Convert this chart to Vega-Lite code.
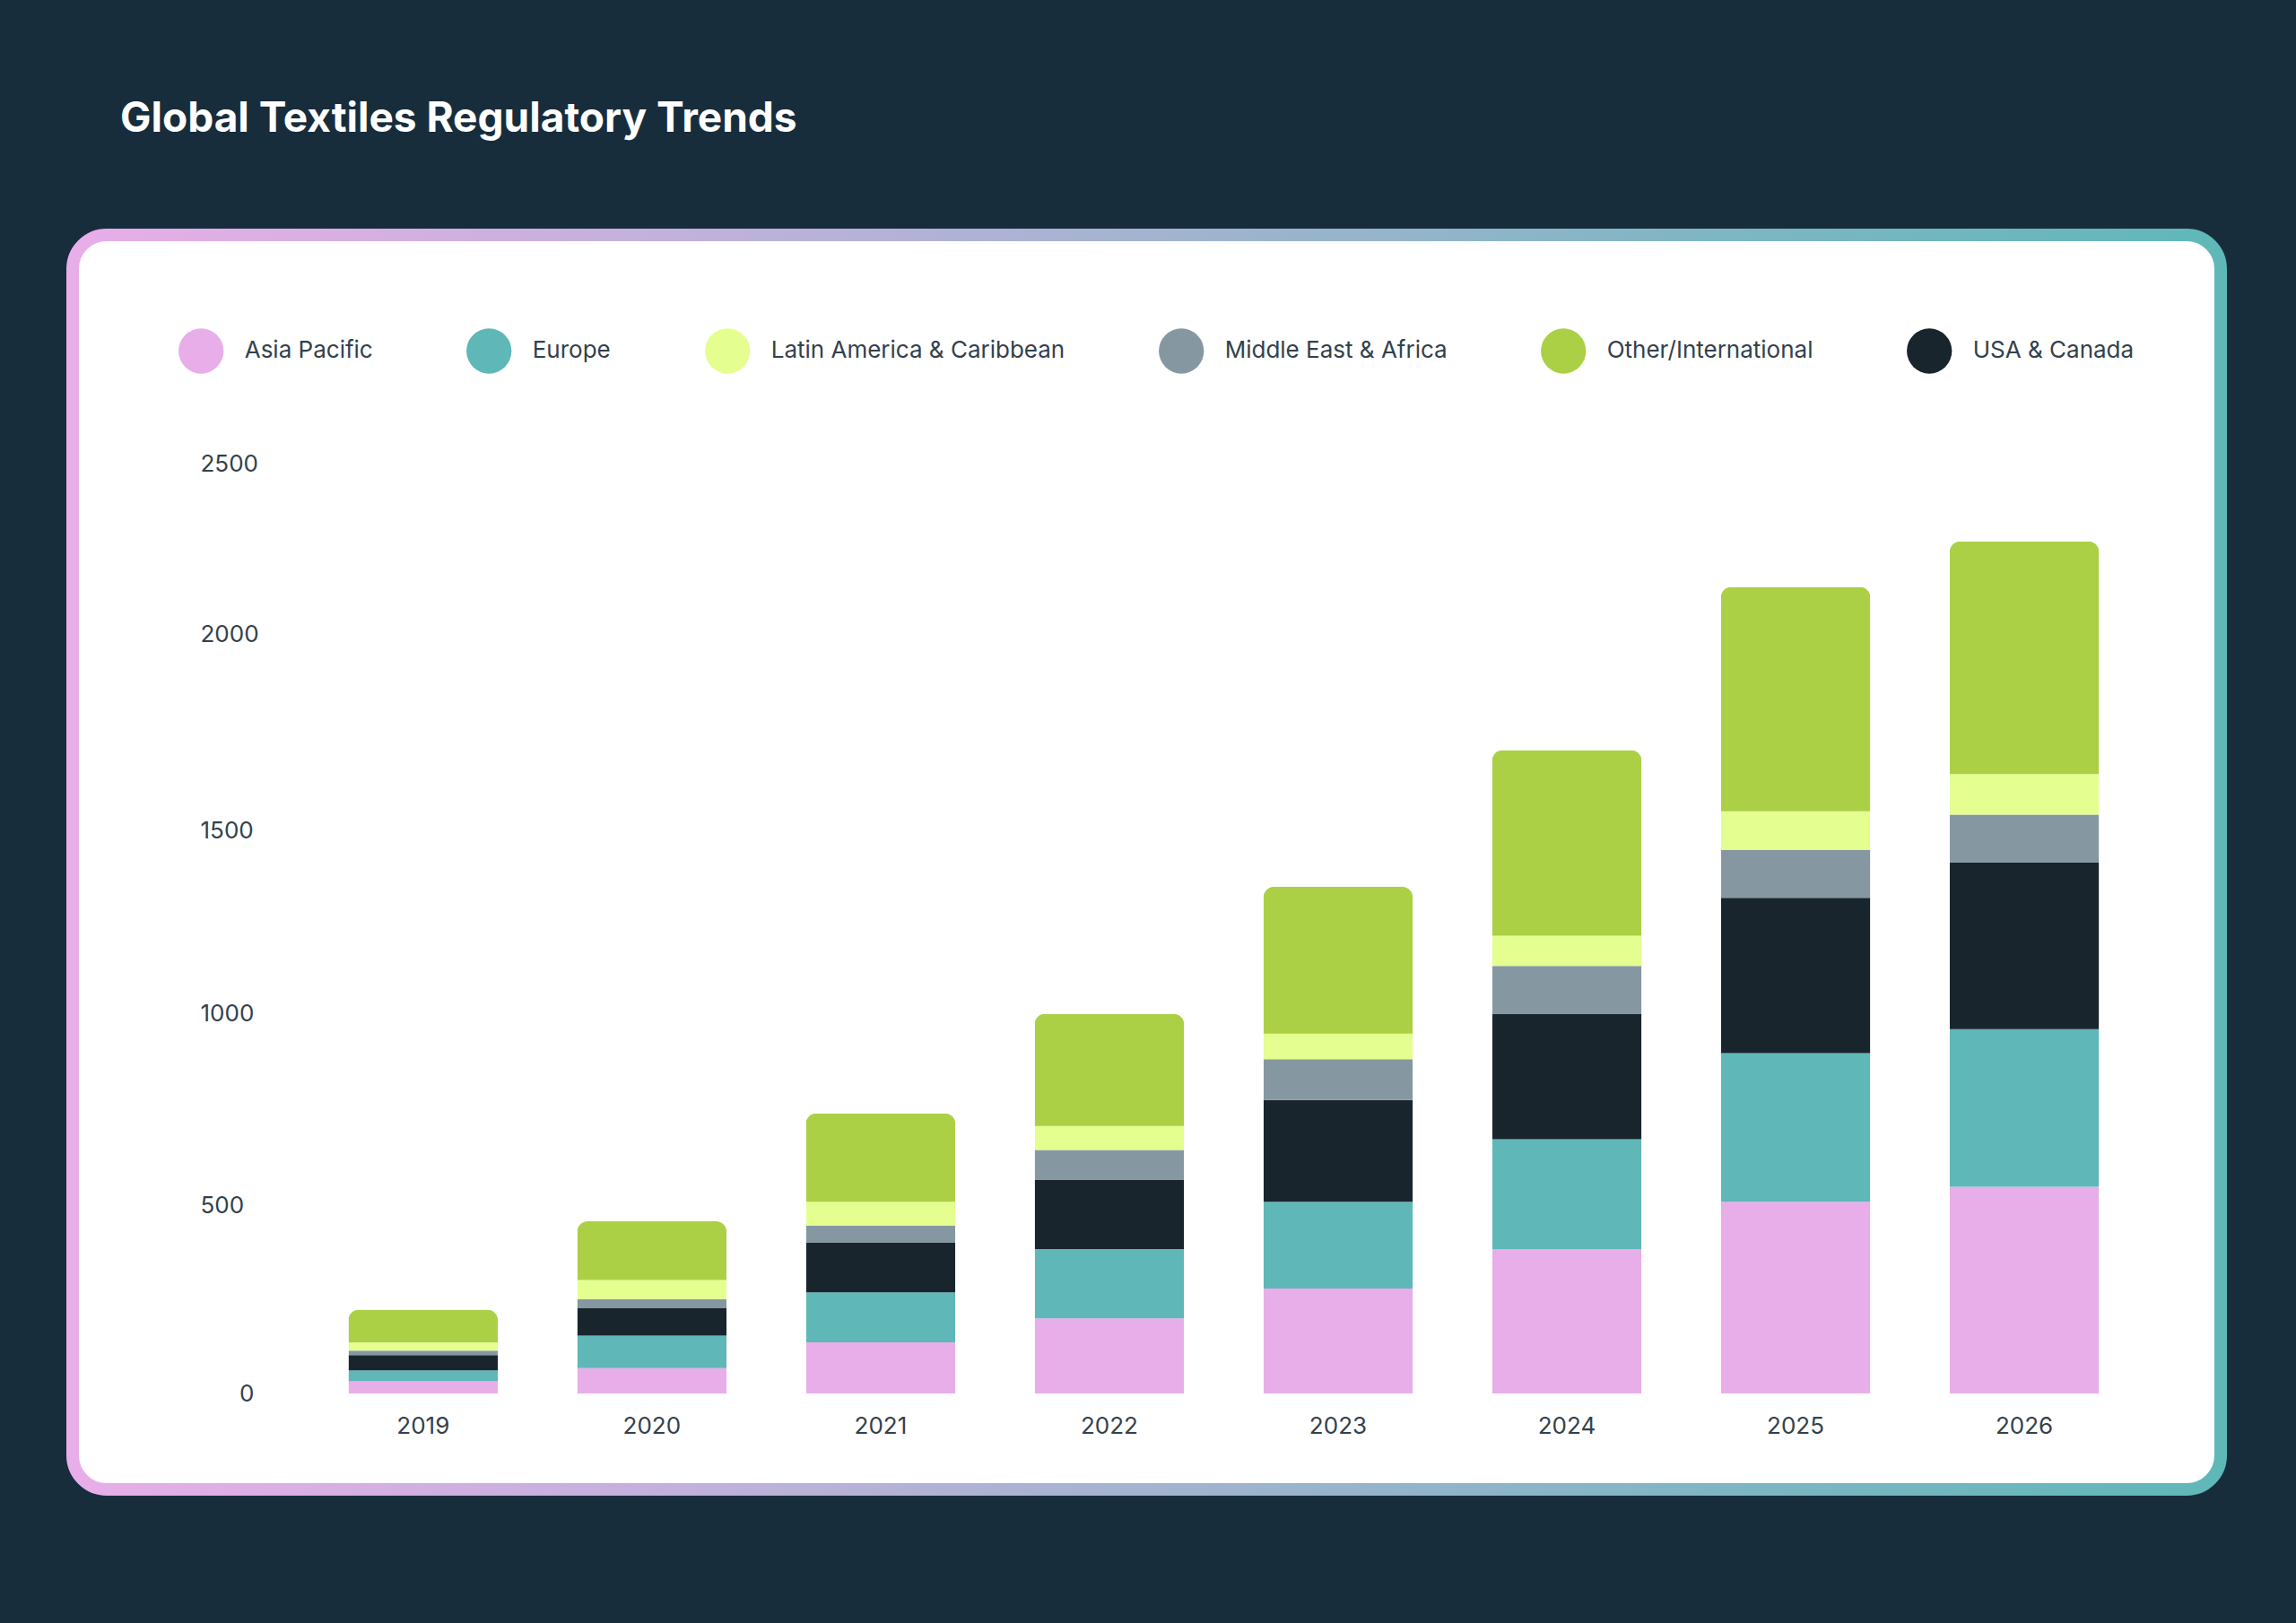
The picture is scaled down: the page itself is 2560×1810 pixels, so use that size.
{
  "$schema": "https://vega.github.io/schema/vega-lite/v6.json",
  "autosize": {"type": "none"},
  "padding": {"left": 81, "top": 262, "right": 84, "bottom": 149},
  "width": 2395,
  "height": 1399,
  "background": "#182d3c",
  "title": {
    "text": "Global Textiles Regulatory Trends",
    "anchor": "start",
    "frame": "group",
    "offset": 62,
    "dx": 53,
    "fontSize": 46,
    "fontWeight": 700,
    "font": "Inter",
    "color": "#ffffff",
    "baseline": "alphabetic"
  },
  "config": {"view": {"stroke": null}, "font": "Inter"},
  "layer": [
    {
      "data": {"values": [{"panel": "frame"}]},
      "mark": {
        "type": "rect",
        "fill": "#ffffff",
        "stroke": {
          "gradient": "linear",
          "x1": 0, "y1": 0, "x2": 1, "y2": 0,
          "stops": [
            {"offset": 0, "color": "#e8aee9"},
            {"offset": 1, "color": "#5fb8b8"}
          ]
        },
        "strokeWidth": 14,
        "cornerRadius": 38
      },
      "encoding": {}
    },
    {
      "data": {
        "values": [
          {"year": "2019", "region": "Asia Pacific", "value": 33},
          {"year": "2019", "region": "Europe", "value": 29},
          {"year": "2019", "region": "USA & Canada", "value": 41},
          {"year": "2019", "region": "Middle East & Africa", "value": 12},
          {"year": "2019", "region": "Latin America & Caribbean", "value": 22},
          {"year": "2019", "region": "Other/International", "value": 87},
          {"year": "2020", "region": "Asia Pacific", "value": 68},
          {"year": "2020", "region": "Europe", "value": 87},
          {"year": "2020", "region": "USA & Canada", "value": 74},
          {"year": "2020", "region": "Middle East & Africa", "value": 23},
          {"year": "2020", "region": "Latin America & Caribbean", "value": 51},
          {"year": "2020", "region": "Other/International", "value": 156},
          {"year": "2021", "region": "Asia Pacific", "value": 137},
          {"year": "2021", "region": "Europe", "value": 133},
          {"year": "2021", "region": "USA & Canada", "value": 132},
          {"year": "2021", "region": "Middle East & Africa", "value": 45},
          {"year": "2021", "region": "Latin America & Caribbean", "value": 64},
          {"year": "2021", "region": "Other/International", "value": 236},
          {"year": "2022", "region": "Asia Pacific", "value": 201},
          {"year": "2022", "region": "Europe", "value": 184},
          {"year": "2022", "region": "USA & Canada", "value": 184},
          {"year": "2022", "region": "Middle East & Africa", "value": 80},
          {"year": "2022", "region": "Latin America & Caribbean", "value": 64},
          {"year": "2022", "region": "Other/International", "value": 299},
          {"year": "2023", "region": "Asia Pacific", "value": 280},
          {"year": "2023", "region": "Europe", "value": 231},
          {"year": "2023", "region": "USA & Canada", "value": 271},
          {"year": "2023", "region": "Middle East & Africa", "value": 109},
          {"year": "2023", "region": "Latin America & Caribbean", "value": 68},
          {"year": "2023", "region": "Other/International", "value": 391},
          {"year": "2024", "region": "Asia Pacific", "value": 385},
          {"year": "2024", "region": "Europe", "value": 293},
          {"year": "2024", "region": "USA & Canada", "value": 334},
          {"year": "2024", "region": "Middle East & Africa", "value": 127},
          {"year": "2024", "region": "Latin America & Caribbean", "value": 81},
          {"year": "2024", "region": "Other/International", "value": 494},
          {"year": "2025", "region": "Asia Pacific", "value": 511},
          {"year": "2025", "region": "Europe", "value": 396},
          {"year": "2025", "region": "USA & Canada", "value": 414},
          {"year": "2025", "region": "Middle East & Africa", "value": 127},
          {"year": "2025", "region": "Latin America & Caribbean", "value": 103},
          {"year": "2025", "region": "Other/International", "value": 598},
          {"year": "2026", "region": "Asia Pacific", "value": 551},
          {"year": "2026", "region": "Europe", "value": 420},
          {"year": "2026", "region": "USA & Canada", "value": 444},
          {"year": "2026", "region": "Middle East & Africa", "value": 127},
          {"year": "2026", "region": "Latin America & Caribbean", "value": 108},
          {"year": "2026", "region": "Other/International", "value": 620}
        ]
      },
      "transform": [
        {"calculate": "indexof(['Asia Pacific','Europe','USA & Canada','Middle East & Africa','Latin America & Caribbean','Other/International'], datum.region)", "as": "stackOrder"}
      ],
      "mark": {"type": "bar", "cornerRadiusTopLeft": 12, "cornerRadiusTopRight": 12},
      "encoding": {
        "x": {
          "field": "year",
          "type": "ordinal",
          "scale": {"paddingInner": 0.3464, "paddingOuter": 0.8685, "align": 0.694},
          "axis": {
            "title": null,
            "orient": "bottom",
            "offset": -106.7,
            "zindex": 2,
            "domain": false,
            "ticks": false,
            "tickSize": 0,
            "labelPadding": 23,
            "labelAngle": 0,
            "labelFont": "Inter",
            "labelFontSize": 26,
            "labelColor": "#33414b"
          }
        },
        "y": {
          "field": "value",
          "type": "quantitative",
          "stack": "zero",
          "scale": {"domain": [-254.8, 3086.1], "nice": false, "zero": false},
          "axis": {
            "title": null,
            "values": [0, 500, 1000, 1500, 2000, 2500],
            "format": "d",
            "offset": -142,
            "zindex": 2,
            "domain": false,
            "ticks": false,
            "tickSize": 0,
            "grid": false,
            "labelPadding": {"condition": {"test": "datum.value === 0", "value": -60}, "value": 0},
            "labelAlign": {"condition": {"test": "datum.value === 0", "value": "right"}, "value": "left"},
            "labelOffset": {"condition": [
              {"test": "datum.value === 2500", "value": 10},
              {"test": "datum.value === 2000", "value": -9},
              {"test": "datum.value === 1000", "value": -5}
            ], "value": 0},
            "labelBaseline": "middle",
            "labelFont": "Inter",
            "labelFontSize": 26,
            "labelColor": "#33414b"
          }
        },
        "color": {
          "field": "region",
          "type": "nominal",
          "scale": {
            "domain": ["Asia Pacific", "Europe", "Latin America & Caribbean", "Middle East & Africa", "Other/International", "USA & Canada"],
            "range": ["#e8aee9", "#5fb7b7", "#e4fe90", "#8598a2", "#abd045", "#19252d"]
          },
          "legend": {
            "title": null,
            "orient": "none",
            "legendX": 117.7,
            "legendY": 103.8,
            "direction": "horizontal",
            "columns": 6,
            "padding": 0,
            "zindex": 2,
            "symbolType": "circle",
            "symbolSize": 2530,
            "symbolStrokeWidth": 0,
            "symbolOpacity": 1,
            "labelFont": "Inter",
            "labelFontSize": 26,
            "labelColor": "#33414b",
            "labelOffset": 23,
            "labelLimit": 0,
            "columnPadding": 104
          }
        },
        "order": {"field": "stackOrder", "type": "quantitative", "sort": "ascending"}
      }
    }
  ]
}
